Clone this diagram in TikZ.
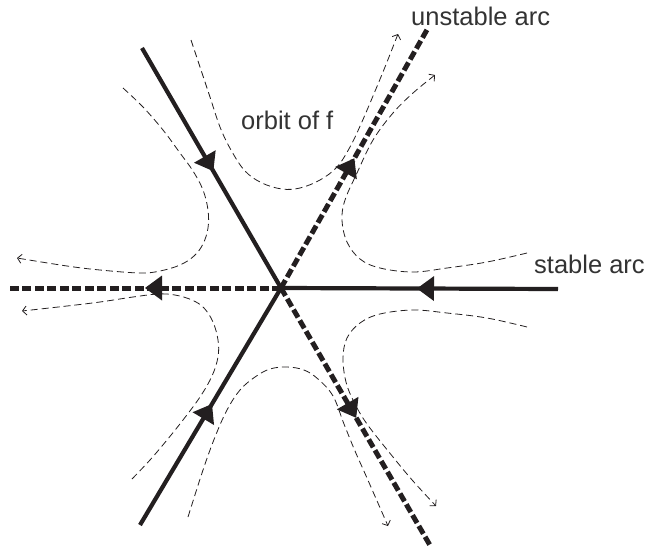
\documentclass[tikz,border=0pt]{standalone}
\usepackage{fontspec}
\setmainfont{Liberation Sans}
\usetikzlibrary{calc,arrows.meta}
\definecolor{ink}{HTML}{231F20}
\definecolor{txt}{HTML}{333333}
\newcommand\myahead[3]{\fill[ink] ($(O)!#2!(#1)$) -- ($(O)!#3!(#1)!12.5pt!90:(O)$) -- ($(O)!#3!(#1)!12.5pt!-90:(O)$) -- cycle;}
\begin{document}
\begin{tikzpicture}[x=1pt,y=-1pt,
  stablearc/.style={draw=ink,line width=4.2pt},
  unstablearc/.style={draw=ink,line width=5pt,dash pattern=on 9pt off 3.5pt},
  orbit/.style={draw=ink,line width=0.8pt,dash pattern=on 7pt off 4pt,-{Straight Barb[length=4pt,width=9pt]}},
  lbl/.style={font=\fontsize{25.5}{30}\selectfont,text=txt,inner sep=0pt,anchor=base west}]
\useasboundingbox (0,0) rectangle (649,550);
% saddle point and arc ends
\coordinate (O) at (281,288);
\coordinate (UL) at (142,48);
\coordinate (R) at (558,289);
\coordinate (L) at (10,288);
\coordinate (UR) at (428,28);
\coordinate (LL) at (140,525);
\coordinate (LR) at (431,547);
% arcs
\draw[stablearc] (UL) -- (O);
\draw[stablearc] (LL) -- (O);
\draw[stablearc] (R) -- (O);
\draw[unstablearc] (O) -- (UR);
\draw[unstablearc] (O) -- (LR);
\draw[unstablearc] (O) -- (L);
% arrowheads
\myahead{R}{136pt}{153pt}
\myahead{UL}{135pt}{152pt}
\myahead{LL}{135pt}{152pt}
\myahead{L}{136pt}{119pt}
\myahead{UR}{149pt}{132pt}
\myahead{LR}{150pt}{133pt}
% orbits
\draw[orbit] plot[smooth,tension=0.6] coordinates {(191,40) (200,67) (210,97) (220,127) (231,150) (245,171) (262,183) (282,189) (300,188) (320,180) (337,167) (350,147) (361,124) (373,96) (385,67) (398,34)};
\draw[orbit] plot[smooth,tension=0.6] coordinates {(527,253) (487,262) (447,268) (413,272) (380,268) (360,259) (347,242) (342,220) (345,200) (357,173) (373,140) (393,113) (413,93) (435,75)};
\draw[orbit] plot[smooth,tension=0.6] coordinates {(527,327) (487,318) (447,313) (413,310) (380,314) (360,323) (347,338) (343,358) (346,382) (354,402) (367,424) (393,457) (413,481) (436,506)};
\draw[orbit] plot[smooth,tension=0.6] coordinates {(188,517) (203,470) (215,437) (227,410) (240,390) (255,377) (270,369) (287,367) (304,370) (318,379) (333,396) (344,424) (355,451) (367,478) (388,526)};
\draw[orbit] plot[smooth,tension=0.6] coordinates {(132,479) (150,460) (167,440) (183,420) (200,397) (212,376) (218,357) (218,340) (213,322) (204,308) (192,300) (175,295) (158,294) (133,297) (100,302) (67,306) (22,311)};
\draw[orbit] plot[smooth,tension=0.6] coordinates {(123,88) (143,107) (163,130) (180,153) (193,171) (203,190) (208,210) (208,228) (203,244) (194,256) (180,265) (160,271) (140,273) (100,270) (67,266) (17,258)};
% labels
\node[lbl] (unst) at (411,25) {unstable arc};
\node[lbl] (stab) at (534,273) {stable arc};
\node[lbl] (orb) at (241,129) {orbit of f};
\end{tikzpicture}
\end{document}
